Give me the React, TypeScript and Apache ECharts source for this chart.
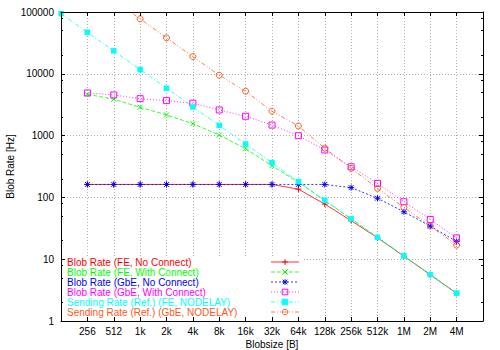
import React, { useEffect, useRef } from 'react';
import * as echarts from 'echarts';

// Blob sizes in bytes (x axis, log2 scale)
const blobSizes = [128, 256, 512, 1024, 2048, 4096, 8192, 16384, 32768, 65536, 131072, 262144, 524288, 1048576, 2097152, 4194304];
// Tick labels for exponents 7..23
const xTickLabels = ['', '256', '512', '1k', '2k', '4k', '8k', '16k', '32k', '64k', '128k', '256k', '512k', '1M', '2M', '4M', ''];

const seriesNames = [
  'Blob Rate (FE, No Connect)',
  'Blob Rate (FE, With Connect)',
  'Blob Rate (GbE, No Connect)',
  'Blob Rate (GbE, With Connect)',
  'Sending Rate (Ref.) (FE, NODELAY)',
  'Sending Rate (Ref.) (GbE, NODELAY)',
];

const feNoConnect = [null, 162, 162, 162, 162, 162, 162, 162, 162, 136, 78, 42, 22.2, 11.2, 5.6, 2.8];
const feWithConnect = [null, 4670, 3870, 2875, 2160, 1560, 1023, 612, 325, 176, 89, 45, 22.5, 11.3, 5.65, 2.82];
const gbeNoConnect = [null, 162, 162, 162, 162, 162, 162, 162, 162, 162, 162, 144, 97, 58.5, 34.3, 19.3];
const gbeWithConnect = [null, 4900, 4550, 3960, 3680, 3340, 2600, 2056, 1480, 996, 585, 313, 169, 85, 44, 22.1];
const sendFeNodelay = [94000, 47000, 23500, 11700, 5840, 2910, 1460, 730, 364, 179, 90, 45, 22.5, 11.3, 5.65, 2.82];
const sendGbeNodelay = [null, null, 155000, 77600, 38200, 19000, 9490, 5220, 2476, 1430, 625, 295, 140, 69, 34.3, 16.9];

const seriesValues = [feNoConnect, feWithConnect, gbeNoConnect, gbeWithConnect, sendFeNodelay, sendGbeNodelay];
const colors = ['#ff0000', '#00ff00', '#0000ff', '#ff00ff', '#00ffff', '#ff5a20'];
const dashes: (number[] | 'solid')[] = ['solid', [4, 2], [2, 2], [1, 2], [4, 2, 1, 2], [4, 2, 1, 2, 1, 2]];

const PLUS = 'path://M5,0L5,10M0,5L10,5';
const CROSS = 'path://M0,0L10,10M10,0L0,10';
const STAR = 'path://M5,0L5,10M0,5L10,5M1,1L9,9M9,1L1,9';
const symbols = [PLUS, CROSS, STAR, 'rect', 'rect', 'circle'];
const filled = [false, false, false, false, true, false];
const symbolSizes = [6, 5, 6, 6, 5.5, 6];

const FONT = 'Liberation Sans, Arial, Helvetica, sans-serif';
const FS = 10;

// minor ticks of the y axis (2, 5 and 8 of each decade) in log10 space
const minorMultipliers = [2, 5, 8];
const decades = [0, 1, 2, 3, 4];

export default function App() {
  const ref = useRef<HTMLDivElement>(null);
  useEffect(() => {
    if (!ref.current) return;
    const chart = echarts.init(ref.current, undefined, { renderer: 'svg' });

    const minorVals: number[] = [];
    decades.forEach((d) => minorMultipliers.forEach((m) => minorVals.push(d + Math.log10(m))));

    const series = seriesNames.map((name, i) => ({
      name,
      type: 'line',
      xAxisIndex: 0,
      yAxisIndex: 0,
      data: blobSizes
        .map((s, k) => [Math.log2(s), seriesValues[i][k]])
        .filter((p) => p[1] != null),
      symbol: symbols[i],
      symbolSize: symbolSizes[i],
      showSymbol: true,
      clip: true,
      z: 2,
      lineStyle: { color: colors[i], width: 0.8, type: dashes[i] },
      itemStyle: filled[i]
        ? { color: colors[i], borderColor: colors[i], borderWidth: 0 }
        : { color: 'rgba(0,0,0,0)', borderColor: colors[i], borderWidth: 1 },
      emphasis: { disabled: true },
    }));

    const rich: Record<string, any> = {};
    colors.forEach((c, i) => {
      rich['r' + i] = { color: c, width: 199, align: 'left', fontSize: FS, fontFamily: FONT, lineHeight: 10 };
    });

    const xBase = { type: 'value', min: 7, max: 23, interval: 1, gridIndex: 0 };
    const tickStyle = { show: true, inside: true, length: 4, lineStyle: { color: '#000', width: 1 } };
    const lineStyleAxis = { show: true, onZero: false, lineStyle: { color: '#000', width: 1 } };

    const option: any = {
      animation: false,
      backgroundColor: '#fff',
      textStyle: { fontFamily: FONT },
      grid: { left: 61, right: 17, top: 12, bottom: 29, containLabel: false, outerBoundsMode: 'none' },
      xAxis: [
        {
          ...xBase,
          position: 'bottom',
          z: 5,
          name: 'Blobsize [B]',
          nameLocation: 'middle',
          nameGap: 18,
          nameMoveOverlap: false,
          nameTextStyle: { color: '#000', fontSize: FS, fontFamily: FONT },
          axisLine: lineStyleAxis,
          axisTick: tickStyle,
          axisLabel: {
            color: '#000',
            fontSize: FS,
            fontFamily: FONT,
            margin: 5,
            formatter: (v: number) => xTickLabels[Math.round(v) - 7] ?? '',
          },
          splitLine: { show: false },
        },
        {
          ...xBase,
          position: 'top',
          z: 5,
          axisLine: lineStyleAxis,
          axisTick: tickStyle,
          axisLabel: { show: false },
          splitLine: { show: false },
        },
        {
          ...xBase,
          position: 'bottom',
          z: 0,
          axisLine: { show: false },
          axisTick: { show: false },
          axisLabel: { show: false },
          splitLine: { show: true, lineStyle: { color: '#b0b0b0', width: 1, type: [1, 2] } },
        },
      ],
      yAxis: [
        {
          type: 'log',
          logBase: 10,
          min: 1,
          max: 100000,
          position: 'left',
          z: 5,
          name: 'Blob Rate [Hz]',
          nameLocation: 'middle',
          nameGap: 46,
          nameMoveOverlap: false,
          nameTextStyle: { color: '#000', fontSize: FS, fontFamily: FONT },
          axisLine: lineStyleAxis,
          axisTick: tickStyle,
          axisLabel: {
            color: '#000',
            fontSize: FS,
            fontFamily: FONT,
            margin: 7,
            formatter: (v: number) => String(Math.round(v)),
          },
          splitLine: { show: false },
        },
        {
          type: 'log',
          logBase: 10,
          min: 1,
          max: 100000,
          position: 'right',
          z: 5,
          axisLine: lineStyleAxis,
          axisTick: tickStyle,
          axisLabel: { show: false },
          splitLine: { show: false },
        },
        {
          type: 'log',
          logBase: 10,
          min: 1,
          max: 100000,
          position: 'left',
          z: 0,
          axisLine: { show: false },
          axisTick: { show: false },
          axisLabel: { show: false },
          splitLine: { show: true, lineStyle: { color: '#b0b0b0', width: 1, type: [1, 2] } },
        },
        {
          type: 'value',
          min: 0,
          max: 5,
          position: 'left',
          z: 5,
          axisLine: { show: false },
          axisTick: { show: true, inside: true, length: 2, customValues: minorVals, lineStyle: { color: '#000', width: 1 } },
          axisLabel: { show: false },
          splitLine: { show: false },
        },
        {
          type: 'value',
          min: 0,
          max: 5,
          position: 'right',
          z: 5,
          axisLine: { show: false },
          axisTick: { show: true, inside: true, length: 2, customValues: minorVals, lineStyle: { color: '#000', width: 1 } },
          axisLabel: { show: false },
          splitLine: { show: false },
        },
      ],
      legend: {
        orient: 'vertical',
        left: 67,
        top: 257,
        padding: 0,
        itemGap: 0,
        itemWidth: 28,
        itemHeight: 7,
        align: 'right',
        selectedMode: false,
        data: seriesNames,
        itemStyle: { borderWidth: 1 },
        lineStyle: { width: 0.8 },
        formatter: (name: string) => `{r${seriesNames.indexOf(name)}|${name}}`,
        textStyle: { fontSize: FS, fontFamily: FONT, rich },
      },
      graphic: [
        {
          type: 'rect',
          z: 1,
          shape: { x: 62, y: 256, width: 241, height: 64 },
          style: { fill: '#fff' },
          silent: true,
        },
      ],
      series,
    };

    chart.setOption(option);
    return () => chart.dispose();
  }, []);

  return (
    <div
      ref={ref}
      style={{ position: 'absolute', left: 0, top: 0, width: 500, height: 350 }}
    />
  );
}
